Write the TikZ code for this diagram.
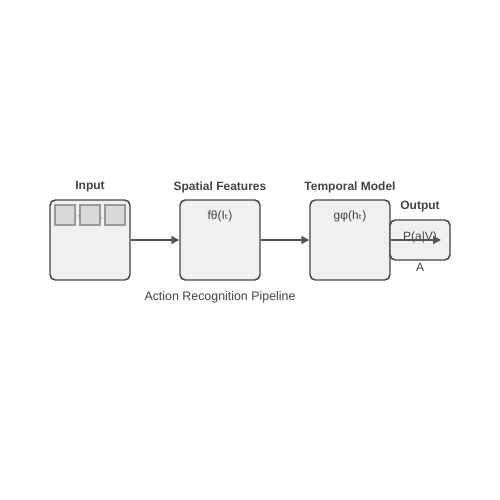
\documentclass[tikz,border=0pt]{standalone}
\usepackage{fontspec}
\setmainfont{Liberation Sans}
\newfontfamily\subfont{DejaVu Sans}
\usepackage{tikz}
\usetikzlibrary{positioning,arrows.meta}
\definecolor{boxfill}{HTML}{F0F0F0}
\definecolor{boxline}{HTML}{444444}
\definecolor{framefill}{HTML}{D9D9D9}
\definecolor{frameline}{HTML}{999999}
\definecolor{arrline}{HTML}{555555}
\newcommand{\sbt}{{\subfont ₜ}}
\begin{document}
\begin{tikzpicture}[x=0.75pt,y=-0.75pt,
  stage/.style={draw=boxline,fill=boxfill,line width=1.1pt,rounded corners=4pt,
    minimum width=60pt,minimum height=60pt,inner sep=0pt},
  frame/.style={draw=frameline,fill=framefill,line width=0.8pt,
    minimum width=15pt,minimum height=15pt,inner sep=0pt},
  title/.style={font=\fontsize{9}{10}\selectfont\bfseries,text=boxline},
  formula/.style={font=\fontsize{9}{10}\selectfont,text=boxline},
  flow/.style={draw=arrline,line width=1.1pt,-{Triangle[length=6pt,width=6pt]}}]
\useasboundingbox (0,0) rectangle (500,500);
% stages
\node[stage] (inp) at (90,240) {};
\node[stage] (spa) at (220,240) {};
\node[stage] (tem) at (350,240) {};
\node[stage,minimum width=45pt,minimum height=30pt] (out) at (420,240) {};
% titles
\node[title] (tinp) at (90,187) {Input};
\node[title] (tspa) at (220,187) {Spatial Features};
\node[title] (ttem) at (350,187) {Temporal Model};
\node[title] (tout) at (420,207) {Output};
% input frames
\node[formula] (seq) at (90,216) {V = \{I₁, ..., I\sbt\}};
\node[frame] (f1) at (65,215) {};
\node[frame] (f2) at (90,215) {};
\node[frame] (f3) at (115,215) {};
% formulas
\node[formula] (fspa) at (220,216) {fθ(I\sbt)};
\node[formula] (ftem) at (350,216) {gφ(h\sbt)};
\node[formula] (fout) at (420,237) {P(a|V)};
\node[formula] (act) at (420,267) {A};
% connectors
\coordinate (oend) at (441,240);
\draw[flow] (inp.east) -- (spa.west);
\draw[flow] (spa.east) -- (tem.west);
\draw[flow] (tem.east) -- (oend);
\node[formula,font=\fontsize{9.3}{10}\selectfont] (cap) at (220,297) {Action Recognition Pipeline};
\end{tikzpicture}
\end{document}
